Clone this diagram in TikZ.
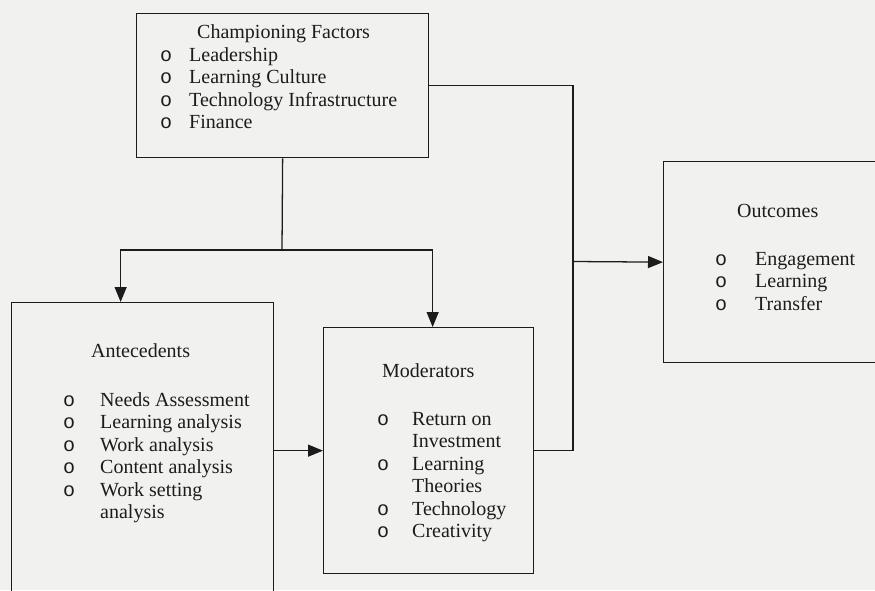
\documentclass[tikz,border=0pt]{standalone}
\usepackage{fontspec}
\setmainfont{Liberation Serif}
\newfontfamily\bulletfont{Liberation Mono}
\usetikzlibrary{positioning,arrows.meta}
\definecolor{paperwhite}{RGB}{241, 241, 239}
\definecolor{inkblack}{RGB}{28, 28, 28}
\newcommand{\bul}{{\bulletfont o}}

\begin{document}
\begin{tikzpicture}[x=1pt, y=-1pt,
boxnode/.style={rectangle, draw=inkblack, line width=0.45mm, anchor=north west},
titlenode/.style={inner sep=0pt, text=inkblack, font=\fontsize{20}{22.5}\selectfont},
listnode/.style={inner sep=0pt, text=inkblack, font=\fontsize{20}{22.5}\selectfont},
connector/.style={draw=inkblack, line width=0.45mm},
arrow/.style={-{Triangle[length=15pt,width=12pt]}, draw=inkblack, line width=0.45mm}
]
\useasboundingbox[fill=paperwhite] (0,0) rectangle (875,590);

%Nodes
%Nodes boxes
\node[boxnode, minimum width=292pt, minimum height=144pt] 	(champ_box) at (136,13) {};
\node[boxnode, minimum width=262pt, minimum height=296pt] 	(ante_box) at (11,302) {};
\node[boxnode, minimum width=210pt, minimum height=246pt] 	(mod_box) at (323,327) {};
\node[boxnode, minimum width=232pt, minimum height=201pt] 	(out_box) at (663,161) {};

%Nodes texts
\node[titlenode, below right=25pt and 61pt of champ_box.north west, anchor=base west] 	(champ_title) {Championing Factors};
\node[listnode, below right=48pt and 24pt of champ_box.north west, anchor=base west] 	(champ_list) {\begin{tabular}[t]{@{}p{29pt}@{}l@{}}
\bul & Leadership\\
\bul & Learning Culture\\
\bul & Technology Infrastructure\\
\bul & Finance
\end{tabular}};

\node[titlenode, below right=55pt and 80pt of ante_box.north west, anchor=base west] 	(ante_title) {Antecedents};
\node[listnode, below right=104pt and 52pt of ante_box.north west, anchor=base west] 	(ante_list) {\begin{tabular}[t]{@{}p{37pt}@{}l@{}}
\bul & Needs Assessment\\
\bul & Learning analysis\\
\bul & Work analysis\\
\bul & Content analysis\\
\bul & Work setting\\
     & analysis
\end{tabular}};

\node[titlenode, below right=50pt and 59pt of mod_box.north west, anchor=base west] 	(mod_title) {Moderators};
\node[listnode, below right=98pt and 54pt of mod_box.north west, anchor=base west] 	(mod_list) {\begin{tabular}[t]{@{}p{35pt}@{}l@{}}
\bul & Return on\\
     & Investment\\
\bul & Learning\\
     & Theories\\
\bul & Technology\\
\bul & Creativity
\end{tabular}};

\node[titlenode, below right=56pt and 74pt of out_box.north west, anchor=base west] 	(out_title) {Outcomes};
\node[listnode, below right=104pt and 52pt of out_box.north west, anchor=base west] 	(out_list) {\begin{tabular}[t]{@{}p{40pt}@{}l@{}}
\bul & Engagement\\
\bul & Learning\\
\bul & Transfer
\end{tabular}};

%Arrow
%Arrow from championing factors down
\coordinate (split) at (282,250);
\draw [connector] (champ_box.south) -- (split);
\draw [arrow] (split) -| ([xshift=-22pt]ante_box.north);
\draw [arrow] (split) -| ([xshift=4pt]mod_box.north);

%Arrow to outcomes
\coordinate (rail) at (573,261.5);
\draw [connector] (champ_box.east) -| (rail) |- (mod_box.east);
\draw [arrow] (rail) -- (out_box.west);
\draw [arrow] (ante_box.east) -- (mod_box.west);

\end{tikzpicture}
\end{document}
